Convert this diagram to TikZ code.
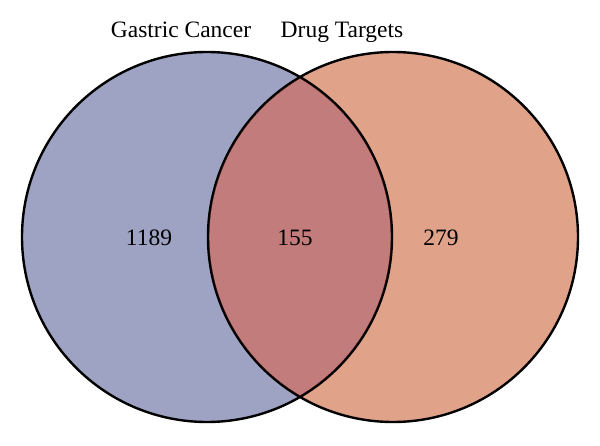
\documentclass[tikz,border=0pt]{standalone}
\usepackage{fontspec}
\setmainfont{Liberation Serif}
\definecolor{leftc}{HTML}{9FA3C3}
\definecolor{rightc}{HTML}{E0A38A}
\definecolor{midc}{HTML}{C17C7B}
\definecolor{midline}{HTML}{5A1E1E}
\begin{document}
\begin{tikzpicture}[x=1pt,y=1pt,
  lbl/.style={font=\fontsize{23.5}{28}\selectfont, inner sep=0pt, anchor=base},
  ring/.style={line width=2.4pt}]
\useasboundingbox (0,0) rectangle (600,445);
\coordinate (cl) at (207,208);
\coordinate (cr) at (393,208);
\fill[leftc] (cl) circle (185);
\fill[rightc] (cr) circle (185);
\begin{scope}
  \clip (cl) circle (185);
  \fill[midc] (cr) circle (185);
\end{scope}
\draw[ring] (cl) circle (185);
\draw[ring] (cr) circle (185);
\begin{scope}
  \clip (cl) circle (184);
  \clip (cr) circle (184);
  \draw[ring, midline] (cl) circle (185);
  \draw[ring, midline] (cr) circle (185);
\end{scope}
\node[lbl] (gc) at (181,407) {Gastric Cancer};
\node[lbl] (dt) at (342,407) {Drug Targets};
\node[lbl] (n1) at (149,199.5) {1189};
\node[lbl] (n2) at (295,199.5) {155};
\node[lbl] (n3) at (441,199.5) {279};
\end{tikzpicture}
\end{document}
